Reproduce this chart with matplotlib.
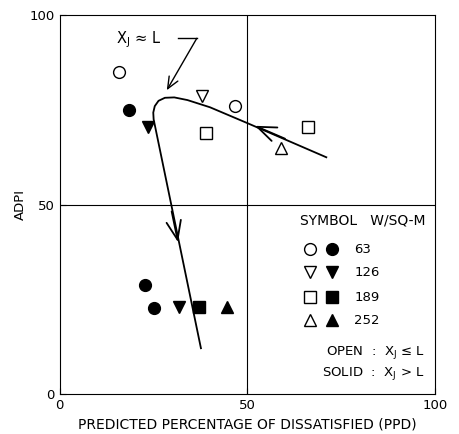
import matplotlib.pyplot as plt

# PPD / ADPI points, open = Xj <= L, solid = Xj > L
ppd_63_open = [15.7, 46.7]
adpi_63_open = [85.0, 76.0]
ppd_63_solid = [18.4, 22.7, 25.0]
adpi_63_solid = [75.0, 28.8, 22.7]

ppd_126_open = [38.0]
adpi_126_open = [78.6]
ppd_126_solid = [23.5, 31.7]
adpi_126_solid = [70.6, 23.0]

ppd_189_open = [39.0, 66.0]
adpi_189_open = [69.0, 70.4]
ppd_189_solid = [37.0]
adpi_189_solid = [23.0]

ppd_252_open = [59.0]
adpi_252_open = [65.0]
ppd_252_solid = [44.5]
adpi_252_solid = [23.0]

# trend curve (hand drawn in the original)
curve_ppd = [71.0, 50.0, 40.0, 34.0, 30.5, 28.0, 26.3, 25.3, 24.9, 25.0, 37.6]
curve_adpi = [62.5, 71.5, 75.7, 77.6, 78.3, 78.2, 77.4, 76.0, 74.3, 72.5, 12.1]

plt.rcParams['font.family'] = ['DejaVu Sans']
fig = plt.figure(figsize=(4.6, 4.34), dpi=100)
ax = fig.add_axes([0.130, 0.092, 0.816, 0.873])

ax.axvline(50, color='black', lw=0.8)
ax.axhline(50, color='black', lw=0.8)

ax.plot(curve_ppd, curve_adpi, color='black', lw=1.3)
arrow = dict(arrowstyle='->,head_length=0.9,head_width=0.35', color='black',
             lw=1.3, mutation_scale=15, shrinkA=0, shrinkB=0)
ax.annotate('', xy=(52, 70.8), xytext=(60, 67.4), arrowprops=arrow)
ax.annotate('', xy=(31.5, 40.1), xytext=(29.8, 48.2), arrowprops=arrow)

kw = dict(ms=8.5, ls='none', color='black', mew=1.0)
groups = [
    ('o', ppd_63_open, adpi_63_open, ppd_63_solid, adpi_63_solid),
    ('v', ppd_126_open, adpi_126_open, ppd_126_solid, adpi_126_solid),
    ('s', ppd_189_open, adpi_189_open, ppd_189_solid, adpi_189_solid),
    ('^', ppd_252_open, adpi_252_open, ppd_252_solid, adpi_252_solid),
]
for m, xo, yo, xs, ys in groups:
    ax.plot(xo, yo, marker=m, mfc='white', **kw)
    ax.plot(xs, ys, marker=m, mfc='black', **kw)

# Xj ~ L callout
ax.text(15, 93.6, 'X$_\\mathregular{J}$ ≈ L', fontsize=10.5, va='center')
ax.plot([31.5, 36.5], [93.9, 93.9], color='black', lw=1.0)
ax.annotate('', xy=(28.5, 80.2), xytext=(36.5, 93.9),
            arrowprops=dict(arrowstyle='->,head_length=0.7,head_width=0.3',
                            color='black', lw=1.0, mutation_scale=12,
                            shrinkA=0, shrinkB=0))

# key
ax.text(97.3, 45.9, 'SYMBOL   W/SQ-M', fontsize=10, va='center', ha='right')
labels = ['63', '126', '189', '252']
key_y = [38.2, 32.1, 25.6, 19.5]
for (m, *_), lab, y in zip(groups, labels, key_y):
    ax.plot([66.7], [y], marker=m, mfc='white', **kw)
    ax.plot([72.5], [y], marker=m, mfc='black', **kw)
    ax.text(78.5, y, lab, fontsize=9.5, va='center')
ax.text(97.3, 11.1, 'OPEN  :  X$_\\mathregular{J}$ ≤ L', fontsize=9.5,
        va='center', ha='right')
ax.text(97.3, 5.5, 'SOLID  :  X$_\\mathregular{J}$ > L', fontsize=9.5,
        va='center', ha='right')

ax.set_xlim(0, 100)
ax.set_ylim(0, 100)
ax.set_xticks([0, 50, 100])
ax.set_yticks([0, 50, 100])
ax.tick_params(direction='in', length=4, labelsize=9.5)
ax.set_xlabel('PREDICTED PERCENTAGE OF DISSATISFIED (PPD)', fontsize=10)
ax.set_ylabel('ADPI', fontsize=9.5, labelpad=2)

fig.savefig('out.png', dpi=100)
